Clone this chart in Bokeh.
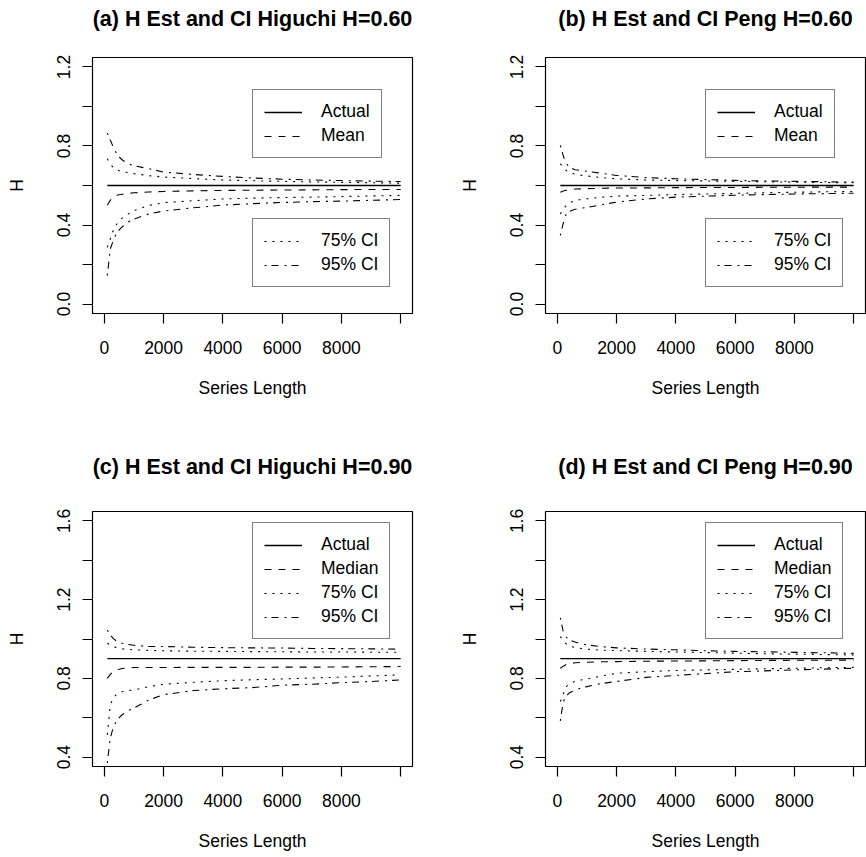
import math
from bokeh.plotting import figure
from bokeh.models import Range1d, FixedTicker, Legend, LegendItem, Title
from bokeh.layouts import column, row
from bokeh.embed import file_html
from bokeh.resources import INLINE

# ---------------- data ----------------
series_length = [100, 200, 300, 400, 500, 600, 800, 1000, 1500, 2000,
                 3000, 4000, 5000, 6000, 7000, 8000, 9000, 10000]

x_ticks = [0, 2000, 4000, 6000, 8000, 10000]
x_tick_labels = ["0", "2000", "4000", "6000", "8000", ""]

# (a) Higuchi H=0.60
a_actual = 0.60
a_mean = [0.500, 0.525, 0.540, 0.550, 0.553, 0.556, 0.560, 0.563, 0.567, 0.570,
          0.573, 0.575, 0.576, 0.577, 0.578, 0.579, 0.580, 0.580]
a_u75 = [0.735, 0.710, 0.690, 0.680, 0.675, 0.670, 0.665, 0.660, 0.650, 0.643,
         0.635, 0.628, 0.624, 0.621, 0.618, 0.616, 0.614, 0.612]
a_u95 = [0.866, 0.830, 0.795, 0.765, 0.745, 0.730, 0.710, 0.700, 0.685, 0.668,
         0.656, 0.646, 0.638, 0.632, 0.628, 0.625, 0.622, 0.620]
a_l75 = [0.287, 0.330, 0.372, 0.400, 0.420, 0.435, 0.455, 0.473, 0.499, 0.513,
         0.523, 0.532, 0.536, 0.539, 0.541, 0.544, 0.547, 0.550]
a_l95 = [0.144, 0.279, 0.320, 0.355, 0.375, 0.390, 0.415, 0.430, 0.456, 0.471,
         0.487, 0.501, 0.508, 0.514, 0.518, 0.521, 0.525, 0.529]

# (b) Peng H=0.60
b_actual = 0.60
b_mean = [0.566, 0.572, 0.576, 0.578, 0.580, 0.582, 0.583, 0.584, 0.586, 0.587,
          0.588, 0.589, 0.590, 0.590, 0.591, 0.591, 0.592, 0.592]
b_u75 = [0.710, 0.690, 0.676, 0.668, 0.662, 0.657, 0.652, 0.648, 0.640, 0.634,
         0.628, 0.625, 0.623, 0.621, 0.619, 0.617, 0.615, 0.614]
b_u95 = [0.803, 0.750, 0.710, 0.695, 0.686, 0.680, 0.676, 0.672, 0.662, 0.651,
         0.640, 0.634, 0.630, 0.626, 0.623, 0.621, 0.619, 0.617]
b_l75 = [0.456, 0.480, 0.499, 0.510, 0.518, 0.523, 0.530, 0.533, 0.541, 0.546,
         0.550, 0.554, 0.557, 0.560, 0.563, 0.566, 0.568, 0.570]
b_l95 = [0.347, 0.410, 0.456, 0.468, 0.475, 0.480, 0.485, 0.489, 0.503, 0.516,
         0.532, 0.541, 0.546, 0.551, 0.554, 0.557, 0.559, 0.561]

# (c) Higuchi H=0.90
c_actual = 0.90
c_median = [0.800, 0.820, 0.834, 0.842, 0.846, 0.850, 0.853, 0.855, 0.855, 0.855,
            0.856, 0.856, 0.856, 0.857, 0.857, 0.858, 0.859, 0.860]
c_u75 = [0.978, 0.970, 0.962, 0.957, 0.953, 0.950, 0.947, 0.945, 0.942, 0.940,
         0.938, 0.937, 0.936, 0.935, 0.934, 0.934, 0.933, 0.933]
c_u95 = [1.046, 1.020, 1.003, 0.990, 0.982, 0.978, 0.972, 0.968, 0.962, 0.962,
         0.958, 0.956, 0.955, 0.954, 0.952, 0.951, 0.950, 0.948]
c_l75 = [0.513, 0.665, 0.700, 0.716, 0.725, 0.732, 0.738, 0.741, 0.758, 0.770,
         0.780, 0.788, 0.793, 0.797, 0.802, 0.806, 0.812, 0.818]
c_l95 = [0.370, 0.496, 0.550, 0.581, 0.600, 0.615, 0.635, 0.649, 0.690, 0.717,
         0.738, 0.747, 0.753, 0.765, 0.770, 0.778, 0.784, 0.792]

# (d) Peng H=0.90
d_actual = 0.90
d_median = [0.851, 0.862, 0.870, 0.875, 0.877, 0.879, 0.881, 0.882, 0.884, 0.885,
            0.887, 0.888, 0.889, 0.890, 0.891, 0.892, 0.892, 0.893]
d_u75 = [1.012, 0.990, 0.975, 0.965, 0.961, 0.957, 0.952, 0.948, 0.943, 0.941,
         0.937, 0.934, 0.931, 0.928, 0.925, 0.923, 0.921, 0.919]
d_u95 = [1.108, 1.037, 1.010, 0.995, 0.990, 0.985, 0.975, 0.970, 0.961, 0.955,
         0.949, 0.945, 0.940, 0.937, 0.935, 0.932, 0.930, 0.927]
d_l75 = [0.682, 0.720, 0.758, 0.770, 0.778, 0.785, 0.792, 0.797, 0.812, 0.826,
         0.834, 0.840, 0.843, 0.846, 0.849, 0.851, 0.854, 0.856]
d_l95 = [0.584, 0.682, 0.710, 0.725, 0.733, 0.740, 0.752, 0.758, 0.774, 0.784,
         0.805, 0.815, 0.824, 0.834, 0.838, 0.843, 0.847, 0.851]

top_y_ticks = [0.0, 0.2, 0.4, 0.6, 0.8, 1.0, 1.2]
top_y_labels = ["0.0", "", "0.4", "", "0.8", "", "1.2"]
bot_y_ticks = [0.4, 0.6, 0.8, 1.0, 1.2, 1.4, 1.6]
bot_y_labels = ["0.4", "", "0.8", "", "1.2", "", "1.6"]

titles = ["(a) H Est and CI Higuchi H=0.60", "(b) H Est and CI Peng H=0.60",
          "(c) H Est and CI Higuchi H=0.90", "(d) H Est and CI Peng H=0.90"]

# ---------------- styling ----------------
FONT = "Liberation Sans"
TICK_FS = "17.5px"
TITLE_FS = "21.5px"
DASH = "7 7"
DOT = "2 6"
DOTDASH = "2 5 7 6"


def make_panel(title, actual, center, u75, l75, u95, l95, center_label,
               ylim, yticks, ylabels, width, height, bl, br, bt, bb,
               split_legend, legend_locs, spacer_standoff):
    ext = 0.04 * (ylim[1] - ylim[0])
    p = figure(width=width, height=height, output_backend="svg",
               toolbar_location=None,
               x_range=Range1d(-400, 10400),
               y_range=Range1d(ylim[0] - ext, ylim[1] + ext),
               min_border_left=bl, min_border_right=br,
               min_border_top=bt, min_border_bottom=bb,
               x_axis_label="Series Length", y_axis_label="H")
    p.grid.visible = False
    p.outline_line_color = "black"
    p.outline_line_width = 1.2
    p.background_fill_color = "white"
    p.border_fill_color = "white"

    # blank spacer next to the frame, then the title outside it
    spacer = Title(text=".", text_font_size="10px", text_color="white",
                   standoff=spacer_standoff)
    p.add_layout(spacer, "above")
    main_title = Title(text=title, align="center", text_font=FONT,
                       text_font_size=TITLE_FS, text_font_style="bold",
                       text_color="black", standoff=0)
    p.add_layout(main_title, "above")

    p.xaxis.ticker = FixedTicker(ticks=x_ticks)
    p.xaxis.major_label_overrides = {t: l for t, l in zip(x_ticks, x_tick_labels)}
    p.yaxis.ticker = FixedTicker(ticks=yticks)
    p.yaxis.major_label_overrides = {t: l for t, l in zip(yticks, ylabels)}
    p.yaxis.major_label_orientation = "vertical"
    for ax in (p.xaxis, p.yaxis):
        ax.axis_line_color = None
        ax.major_tick_line_color = "black"
        ax.major_tick_line_width = 1.2
        ax.major_tick_out = 10
        ax.major_tick_in = 0
        ax.minor_tick_line_color = None
        ax.major_label_text_font = FONT
        ax.major_label_text_font_size = TICK_FS
        ax.major_label_text_color = "black"
        ax.axis_label_text_font = FONT
        ax.axis_label_text_font_size = TICK_FS
        ax.axis_label_text_font_style = "normal"
        ax.axis_label_text_color = "black"
    p.xaxis.major_label_standoff = 17
    p.xaxis.axis_label_standoff = 21
    p.yaxis.major_label_standoff = 12
    p.yaxis.axis_label_standoff = 28

    actual_vals = [actual] * len(series_length)
    r_act = p.line(series_length, actual_vals, line_color="black", line_width=1.3)
    r_cen = p.line(series_length, center, line_color="black", line_width=1.1, line_dash=DASH)
    r_u75 = p.line(series_length, u75, line_color="black", line_width=1.1, line_dash=DOT)
    p.line(series_length, l75, line_color="black", line_width=1.1, line_dash=DOT)
    r_u95 = p.line(series_length, u95, line_color="black", line_width=1.1, line_dash=DOTDASH)
    p.line(series_length, l95, line_color="black", line_width=1.1, line_dash=DOTDASH)

    items_a = [LegendItem(label="Actual", renderers=[r_act]),
               LegendItem(label=center_label, renderers=[r_cen])]
    items_b = [LegendItem(label="75% CI", renderers=[r_u75]),
               LegendItem(label="95% CI", renderers=[r_u95])]
    groups = [items_a, items_b] if split_legend else [items_a + items_b]
    for items, loc in zip(groups, legend_locs):
        lg = Legend(items=items, location=loc, margin=0, padding=11,
                    spacing=3, glyph_width=38, glyph_height=20,
                    label_height=20, label_standoff=19, title_standoff=0,
                    label_text_font=FONT, label_text_font_size=TICK_FS,
                    label_text_color="black",
                    border_line_color="black", border_line_width=1.2,
                    background_fill_color="white", background_fill_alpha=1.0)
        p.add_layout(lg, "center")
    return p


pa = make_panel(titles[0], a_actual, a_mean, a_u75, a_l75, a_u95, a_l95, "Mean",
                (0.0, 1.2), top_y_ticks, top_y_labels,
                433, 446, 92, 21, 57, 133, True, [(160, 155), (160, 26)], 17)
pb = make_panel(titles[1], b_actual, b_mean, b_u75, b_l75, b_u95, b_l95, "Mean",
                (0.0, 1.2), top_y_ticks, top_y_labels,
                433, 446, 112, 1, 57, 133, True, [(160, 155), (160, 26)], 17)
pc = make_panel(titles[2], c_actual, c_median, c_u75, c_l75, c_u95, c_l95, "Median",
                (0.4, 1.6), bot_y_ticks, bot_y_labels,
                433, 411, 92, 21, 65, 91, False, [(160, 127)], 23)
pd = make_panel(titles[3], d_actual, d_median, d_u75, d_l75, d_u95, d_l95, "Median",
                (0.4, 1.6), bot_y_ticks, bot_y_labels,
                433, 411, 112, 1, 65, 91, False, [(160, 127)], 23)

layout = column(row(pa, pb), row(pc, pd))

with open("out.html", "w") as f:
    f.write(file_html(layout, INLINE))
